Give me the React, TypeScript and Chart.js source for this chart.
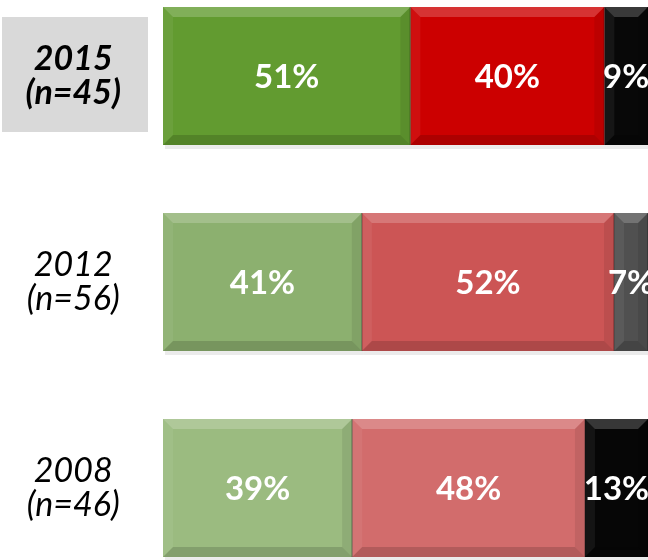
import React, { useEffect, useRef } from "react";
import { Chart, registerables } from "chart.js";

Chart.register(...registerables);

const categories: string[][] = [["2015", "(n=45)"], ["2012", "(n=56)"], ["2008", "(n=46)"]];
const positiveValues = [51, 41, 39];
const negativeValues = [40, 52, 48];
const unsureValues = [9, 7, 13];

const positiveColors = ["#629b30", "#8cb06f", "#9bbb80"];
const negativeColors = ["#cc0000", "#cc5555", "#d26c6c"];
const unsureColors = ["#080808", "#505050", "#060606"];

const FONT = "Lato, 'Open Sans', sans-serif";

const highlightPlugin = {
  id: "highlightBox",
  beforeDraw(chart: any) {
    const yScale = chart.scales.y;
    const ctx = chart.ctx;
    const cy = yScale.getPixelForValue(0);
    ctx.save();
    ctx.fillStyle = "#d9d9d9";
    ctx.fillRect(2, cy - 59, 146, 115);
    ctx.restore();
  },
};

const bevelPlugin = {
  id: "bevelLabels",
  afterDatasetsDraw(chart: any) {
    const ctx = chart.ctx;
    const b = 10;
    chart.data.datasets.forEach((ds: any, di: number) => {
      const meta = chart.getDatasetMeta(di);
      meta.data.forEach((el: any, i: number) => {
        const p = el.getProps(["x", "y", "base", "height"], true);
        const l = Math.min(p.base, p.x);
        const r = Math.max(p.base, p.x);
        const t = p.y - p.height / 2;
        const bt = p.y + p.height / 2;
        ctx.save();
        // soft shadow under bar
        ctx.fillStyle = "rgba(0,0,0,0.08)";
        ctx.fillRect(l + 2, bt, r - l, 4);
        // top bevel
        ctx.fillStyle = "rgba(255,255,255,0.2)";
        ctx.beginPath();
        ctx.moveTo(l, t); ctx.lineTo(r, t); ctx.lineTo(r - b, t + b); ctx.lineTo(l + b, t + b); ctx.closePath(); ctx.fill();
        // bottom bevel
        ctx.fillStyle = "rgba(0,0,0,0.15)";
        ctx.beginPath();
        ctx.moveTo(l, bt); ctx.lineTo(r, bt); ctx.lineTo(r - b, bt - b); ctx.lineTo(l + b, bt - b); ctx.closePath(); ctx.fill();
        // left bevel
        ctx.fillStyle = "rgba(255,255,255,0.06)";
        ctx.beginPath();
        ctx.moveTo(l, t); ctx.lineTo(l + b, t + b); ctx.lineTo(l + b, bt - b); ctx.lineTo(l, bt); ctx.closePath(); ctx.fill();
        // right bevel
        ctx.fillStyle = "rgba(0,0,0,0.08)";
        ctx.beginPath();
        ctx.moveTo(r, t); ctx.lineTo(r - b, t + b); ctx.lineTo(r - b, bt - b); ctx.lineTo(r, bt); ctx.closePath(); ctx.fill();
        // edge line
        ctx.strokeStyle = "rgba(0,0,0,0.3)";
        ctx.lineWidth = 1.5;
        ctx.beginPath();
        ctx.moveTo(r, t); ctx.lineTo(r, bt);
        ctx.stroke();
        // label
        const v = ds.data[i];
        ctx.fillStyle = "#ffffff";
        ctx.font = `bold 33px ${FONT}`;
        ctx.textAlign = "center";
        ctx.textBaseline = "middle";
        ctx.fillText(`${v}%`, (l + r) / 2, p.y + 1);
        ctx.restore();
      });
    });
  },
};

export default function App() {
  const ref = useRef<HTMLCanvasElement | null>(null);
  useEffect(() => {
    if (!ref.current) return;
    const chart = new Chart(ref.current, {
      type: "bar",
      data: {
        labels: categories,
        datasets: [
          { label: "Positive", data: positiveValues, backgroundColor: positiveColors, borderWidth: 0 },
          { label: "Negative", data: negativeValues, backgroundColor: negativeColors, borderWidth: 0 },
          { label: "Unsure", data: unsureValues, backgroundColor: unsureColors, borderWidth: 0 },
        ],
      },
      options: {
        indexAxis: "y",
        responsive: false,
        animation: false,
        layout: { padding: 0 },
        datasets: { bar: { barPercentage: 1, categoryPercentage: 0.67 } },
        plugins: { legend: { display: false }, tooltip: { enabled: false } },
        scales: {
          x: { stacked: true, min: 0, max: 100, display: false },
          y: {
            stacked: true,
            grid: { display: false },
            border: { display: false },
            afterFit: (scale: any) => {
              scale.width = 163;
              scale.paddingTop = 0;
              scale.paddingBottom = 0;
            },
            ticks: {
              crossAlign: "center",
              padding: 34,
              color: "#000000",
              font: (c: any) => ({
                family: FONT,
                size: 34,
                style: "italic",
                weight: c.index === 0 ? "bold" : "normal",
                lineHeight: 1.0,
              }),
            },
          },
        },
      },
      plugins: [highlightPlugin, bevelPlugin],
    });
    return () => chart.destroy();
  }, []);
  return (
    <div style={{ position: "fixed", left: 0, top: -27, width: 648, height: 618, background: "#fff" }}>
      <canvas ref={ref} width={648} height={618} />
    </div>
  );
}
